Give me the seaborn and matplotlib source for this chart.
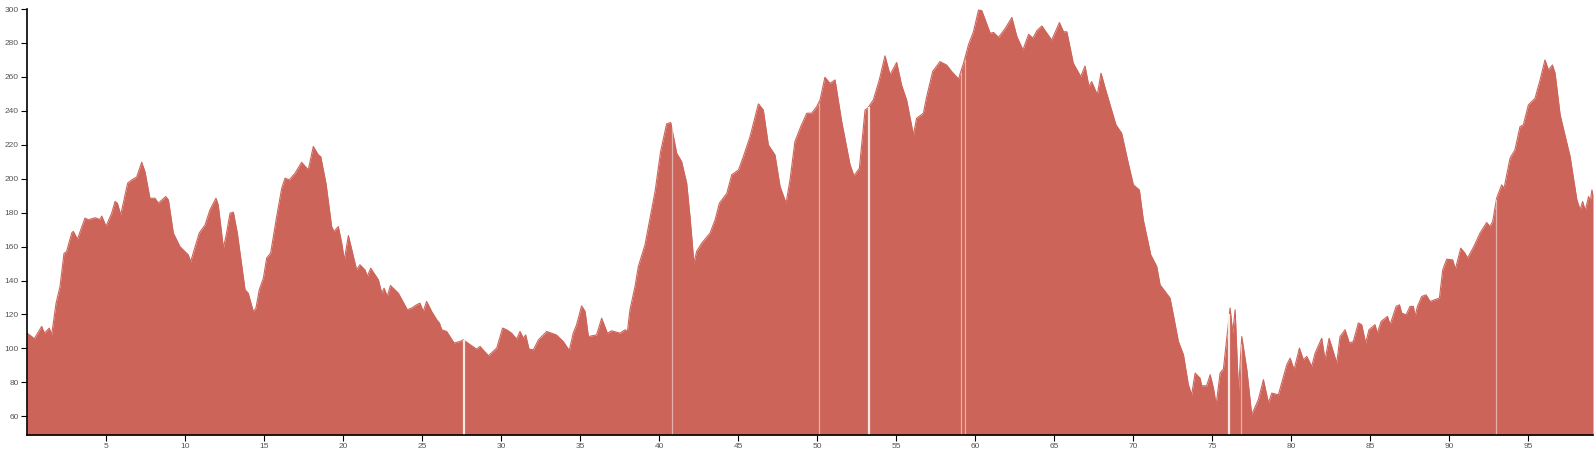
import numpy as np
import pandas as pd
import seaborn as sns
import matplotlib
matplotlib.use('Agg')
import matplotlib.pyplot as plt


# distance along the route (km) and elevation (m)
dist_km = [
    0.0, 0.3, 0.46, 0.93, 1.1, 1.41, 1.56, 1.84, 2.09, 2.34, 2.5, 2.83, 2.93,
    3.19, 3.67, 3.88, 4.3, 4.62, 4.73, 5.0, 5.36, 5.57, 5.72, 5.93, 6.37, 6.63,
    6.94, 7.26, 7.47, 7.78, 8.1, 8.31, 8.78, 8.95, 9.26, 9.68, 10.2, 10.36,
    10.9, 11.27, 11.58, 11.96, 12.1, 12.43, 12.63, 12.85, 13.06, 13.31, 13.8,
    14.0, 14.32, 14.49, 14.7, 14.96, 15.17, 15.42, 15.8, 16.12, 16.33, 16.6,
    16.96, 17.38, 17.8, 18.12, 18.44, 18.59, 18.92, 19.28, 19.43, 19.7, 19.92,
    20.08, 20.34, 20.86, 21.07, 21.39, 21.54, 21.75, 22.24, 22.45, 22.6, 22.8,
    23.0, 23.5, 24.07, 24.34, 24.65, 24.87, 25.08, 25.29, 25.61, 25.93, 26.1,
    26.25, 26.56, 27.03, 27.4, 27.61, 28.14, 28.45, 28.67, 29.2, 29.73, 30.1,
    30.36, 30.67, 30.99, 31.2, 31.42, 31.56, 31.77, 32.05, 32.37, 32.89, 33.5,
    33.94, 34.32, 34.57, 34.78, 35.1, 35.32, 35.53, 36.05, 36.37, 36.73, 37.0,
    37.53, 37.85, 38.0, 38.16, 38.48, 38.69, 39.11, 39.43, 39.75, 40.1, 40.48,
    40.74, 41.12, 41.43, 41.75, 41.96, 42.21, 42.38, 42.7, 43.23, 43.55, 43.82,
    44.29, 44.6, 45.03, 45.34, 45.76, 46.29, 46.6, 46.92, 47.34, 47.66, 48.04,
    48.29, 48.6, 48.97, 49.35, 49.66, 49.98, 50.19, 50.5, 50.82, 51.14, 51.56,
    52.09, 52.34, 52.68, 53.04, 53.2, 53.56, 53.94, 54.3, 54.62, 55.04, 55.35,
    55.67, 56.1, 56.3, 56.73, 56.94, 57.32, 57.78, 58.2, 58.52, 58.95, 59.27,
    59.58, 59.9, 60.22, 60.43, 60.96, 61.17, 61.49, 61.91, 62.33, 62.65, 63.03,
    63.39, 63.66, 63.92, 64.23, 64.85, 65.34, 65.6, 65.81, 66.22, 66.69, 66.96,
    67.21, 67.38, 67.74, 67.97, 68.33, 68.92, 69.28, 69.7, 70.02, 70.4, 70.65,
    71.12, 71.5, 71.71, 72.34, 72.55, 72.87, 73.19, 73.5, 73.71, 73.93, 74.24,
    74.35, 74.66, 74.88, 75.09, 75.26, 75.51, 75.72, 75.97, 76.14, 76.31, 76.46,
    76.67, 76.88, 77.2, 77.51, 77.93, 78.25, 78.57, 78.78, 79.2, 79.73, 79.94,
    80.19, 80.53, 80.78, 80.99, 81.31, 81.52, 81.94, 82.15, 82.41, 82.89, 83.1,
    83.42, 83.69, 83.94, 84.26, 84.47, 84.72, 84.93, 85.31, 85.46, 85.7, 86.1,
    86.27, 86.65, 86.86, 87.0, 87.28, 87.53, 87.74, 87.85, 88.0, 88.27, 88.54,
    88.8, 89.39, 89.6, 89.85, 90.23, 90.4, 90.74, 91.0, 91.17, 91.57, 91.96,
    92.38, 92.59, 92.76, 93.01, 93.33, 93.48, 93.86, 94.17, 94.49, 94.7, 95.02,
    95.44, 95.76, 96.07, 96.29, 96.54, 96.71, 97.03, 97.66, 98.09, 98.3, 98.45,
    98.62, 98.83, 98.94, 99.04, 99.11,
]

elev_m = [
    109, 107, 105.7, 113, 109, 112, 108, 126.7, 136.5, 156, 157, 168, 169,
    164.4, 176.8, 175.8, 177, 176, 178, 172, 179.7, 186.6, 185.6, 178.7, 197.4, 199.3,
    201, 209.7, 204, 188.5, 188.5, 185.6, 189.5, 187.5, 168, 160, 155.2, 151.2,
    168, 172.8, 181.7, 188.5, 184.6, 159.1, 168, 179.7, 180.3, 168, 134.6,
    132.6, 121.8, 123.8, 134.6, 141.4, 153.3, 156.2, 177.7, 194.4, 200.3, 199.3,
    203.2, 209.7, 205.2, 219, 214, 213, 197.4, 171.8, 168.9, 171.8, 162,
    152.2, 166.5, 146.3, 149.3, 146.3, 142.4, 147.3, 140.4, 132.6, 135.5, 130.6,
    137.1, 132.6, 122.8, 123.8, 125.7, 126.7, 121.8, 127.7, 121.8, 116.9, 115,
    111, 110, 103.2, 104.1, 105.1, 101.6, 99.6, 101.2, 95.7, 100.2, 112,
    111, 109, 105.5, 110, 106, 108, 99.6, 99.2, 105.1, 110, 108,
    104.1, 98.8, 109, 113.9, 125.1, 121.8, 107, 108, 117.8, 109, 110.4,
    109, 111, 110, 122.8, 136.5, 148.3, 161, 176.8, 192.5, 216, 232.3,
    233.1, 215, 210.1, 197.4, 177.7, 150.3, 157.2, 162, 168, 175.8, 185.6,
    191.4, 202.3, 205.2, 213.1, 224.8, 244.1, 240.5, 219.9, 214, 195.4, 185.6,
    199.3, 221.9, 230.7, 238.6, 238.6, 242.5, 246.4, 259.8, 256.2, 258.2, 233.7,
    208.2, 201.7, 206.2, 240.5, 241.5, 246.4, 258.2, 272.4, 261.2, 268.5, 255.2,
    246.4, 225.8, 235.6, 238.6, 248.4, 263.2, 269, 267, 263.2, 258.8, 268,
    278.8, 286.6, 299.4, 299, 285.7, 286.2, 283.3, 288.6, 295, 283.7, 275.9,
    285.1, 282.8, 287.3, 290, 281.7, 292, 286.6, 286.6, 268, 260.2, 266.4,
    254.3, 257.2, 249.4, 262.2, 250.4, 231.7, 226.8, 209.1, 196.4, 193.4, 175.8,
    155.2, 148.3, 137.5, 129.7, 119.8, 104.1, 96.3, 78.6, 72.7, 85.5, 82.5,
    78, 78, 84.5, 76.6, 66.9, 85.5, 87.9, 109, 123.8, 109, 122.8,
    74.6, 107, 87.5, 61, 69.8, 81.6, 67.9, 73.7, 72.7, 90.4, 94.3,
    87.5, 100.2, 93.3, 95.3, 89.4, 97.2, 106, 93.3, 106, 91.4, 107,
    111, 103.2, 104.1, 115, 114, 103.2, 111, 114, 109, 115.9, 118.9,
    114, 124.8, 125.7, 120.9, 119.8, 124.8, 124.8, 118.9, 124.8, 130.6, 131.6,
    127.7, 129.7, 146.3, 152.6, 152.2, 146.7, 159.1, 156.2, 153.3, 160.1, 168,
    174.2, 171.8, 174.8, 188.5, 196.4, 194.4, 212.1, 217, 230.7, 231.7, 243.5,
    247.4, 258.2, 270, 264.1, 267, 262.2, 237.6, 213.1, 187.5, 181.7, 186.6,
    181.3, 189.5, 186.6, 193.4, 190.5,
]

# seams visible in the filled profile (km)
gaps_wide = [27.65, 53.27, 76.1]
gaps_thin = [40.8, 50.1, 59.1, 59.35, 76.85, 93.0]

x_ticks = [5, 10, 15, 20, 25, 30, 35, 40, 45, 50, 55, 60, 65, 70, 75, 80, 85, 90, 95]
y_ticks = [60, 80, 100, 120, 140, 160, 180, 200, 220, 240, 260, 280, 300]

fill_col = '#CD6459'

sns.set_style('ticks')
plt.rcParams['font.family'] = ['Liberation Sans', 'DejaVu Sans']

df = pd.DataFrame({'km': dist_km, 'elev': elev_m})

fig = plt.figure(figsize=(15.96, 4.53), dpi=100)
ax = fig.add_axes([27/1596, 1 - 435/453, (1593 - 27)/1596, (435 - 9)/453])

y_min = 49
ax.fill_between(df['km'], y_min, df['elev'], color=fill_col, linewidth=0)
sns.lineplot(data=df, x='km', y='elev', ax=ax, color=fill_col, linewidth=0.8)

ax.vlines(gaps_wide, y_min, np.interp(gaps_wide, dist_km, elev_m),
          color='white', linewidth=1.6, alpha=0.85)
ax.vlines(gaps_thin, y_min, np.interp(gaps_thin, dist_km, elev_m),
          color='white', linewidth=0.9, alpha=0.5)

ax.set_xlim(0, dist_km[-1])
ax.set_ylim(y_min, 300)
ax.set_xticks(x_ticks)
ax.set_yticks(y_ticks)
ax.set_xlabel('')
ax.set_ylabel('')

for s in ['top', 'right']:
    ax.spines[s].set_visible(False)
for s in ['left', 'bottom']:
    ax.spines[s].set_color('black')
    ax.spines[s].set_linewidth(1.2)

ax.tick_params(axis='both', length=4, width=0.8, color='black',
               labelsize=6, labelcolor='#555555', pad=2)

fig.savefig('out.png', dpi=100)
